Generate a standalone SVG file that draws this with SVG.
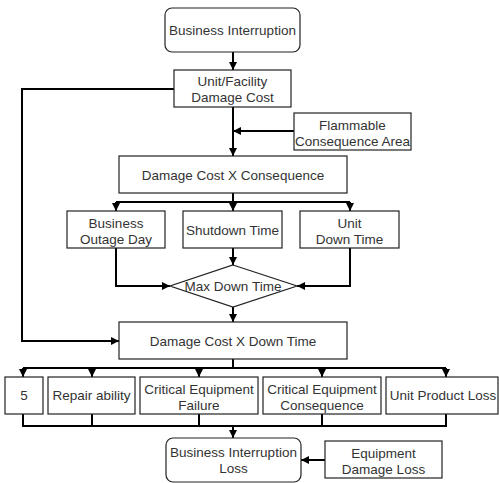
<svg xmlns="http://www.w3.org/2000/svg" width="499" height="483" viewBox="0 0 499 483">
<defs>
<marker id="ah" markerUnits="userSpaceOnUse" markerWidth="9" markerHeight="9" refX="8" refY="4.5" orient="auto">
<path d="M0,0.5 L8,4.5 L0,8.5 z" fill="#000"/>
</marker>
<style>
.box{fill:#fff;stroke:#222;stroke-width:1.2}
.t{font-family:"Liberation Sans",Arial,sans-serif;font-size:13.5px;fill:#333;text-anchor:middle}
.c{fill:none;stroke:#000;stroke-width:2}
.a{marker-end:url(#ah)}
</style>
</defs>
<rect width="499" height="483" fill="#fff"/>
<g id="connectors">
<path class="c a" d="M233,52 V70"/>
<path class="c a" d="M174,89 H22 V341 H119"/>
<path class="c a" d="M233,107 V156"/>
<path class="c a" d="M294,131 H233"/>
<path class="c" d="M233,193 V202"/>
<path class="c" d="M116,202 H350"/>
<path class="c a" d="M116,202 V211"/>
<path class="c a" d="M233,202 V211"/>
<path class="c a" d="M350,202 V211"/>
<path class="c a" d="M116,248 V286 H170"/>
<path class="c a" d="M233,248 V265"/>
<path class="c a" d="M350,248 V286 H297"/>
<path class="c a" d="M233,307 V322"/>
<path class="c" d="M233,359 V368"/>
<path class="c" d="M23,368 H446"/>
<path class="c a" d="M23,368 V377"/>
<path class="c a" d="M92,368 V377"/>
<path class="c a" d="M199,368 V377"/>
<path class="c a" d="M322,368 V377"/>
<path class="c a" d="M446,368 V377"/>
<path class="c" d="M23,414 V426 H446 V414"/>
<path class="c" d="M92,414 V426"/>
<path class="c" d="M199,414 V426"/>
<path class="c" d="M322,414 V426"/>
<path class="c a" d="M233,426 V438"/>
<path class="c a" d="M325,460 H301"/>
</g>
<g id="business-interruption">
<rect class="box" x="165" y="8" width="135" height="44" rx="7"/>
<text class="t" x="232.5" y="35">Business Interruption</text>
</g>
<g id="unit-facility-damage-cost">
<rect class="box" x="174" y="70" width="117" height="37"/>
<text class="t" x="232.5" y="86">Unit/Facility</text>
<text class="t" x="232.5" y="102">Damage Cost</text>
</g>
<g id="flammable-consequence-area">
<rect class="box" x="294" y="113" width="117" height="37"/>
<text class="t" x="352.5" y="130">Flammable</text>
<text class="t" x="352.5" y="146">Consequence Area</text>
</g>
<g id="damage-cost-x-consequence">
<rect class="box" x="119" y="156" width="228" height="37"/>
<text class="t" x="233" y="180">Damage Cost X Consequence</text>
</g>
<g id="business-outage-day">
<rect class="box" x="67" y="211" width="98" height="37"/>
<text class="t" x="116" y="228">Business</text>
<text class="t" x="116" y="244">Outage Day</text>
</g>
<g id="shutdown-time">
<rect class="box" x="183" y="211" width="99" height="37"/>
<text class="t" x="232.5" y="235">Shutdown Time</text>
</g>
<g id="unit-down-time">
<rect class="box" x="300" y="211" width="99" height="37"/>
<text class="t" x="349.5" y="228">Unit</text>
<text class="t" x="349.5" y="244">Down Time</text>
</g>
<g id="max-down-time">
<polygon class="box" points="233,265 297,286 233,307 170,286"/>
<text class="t" x="233" y="291">Max Down Time</text>
</g>
<g id="damage-cost-x-down-time">
<rect class="box" x="119" y="322" width="228" height="37"/>
<text class="t" x="233" y="346">Damage Cost X Down Time</text>
</g>
<g id="five">
<rect class="box" x="5" y="377" width="38" height="37"/>
<text class="t" x="24" y="400">5</text>
</g>
<g id="repair-ability">
<rect class="box" x="48" y="377" width="87" height="37"/>
<text class="t" x="91.5" y="400">Repair ability</text>
</g>
<g id="critical-equipment-failure">
<rect class="box" x="140" y="377" width="118" height="37"/>
<text class="t" x="199" y="394">Critical Equipment</text>
<text class="t" x="199" y="410">Failure</text>
</g>
<g id="critical-equipment-consequence">
<rect class="box" x="263" y="377" width="118" height="37"/>
<text class="t" x="322" y="394">Critical Equipment</text>
<text class="t" x="322" y="410">Consequence</text>
</g>
<g id="unit-product-loss">
<rect class="box" x="386" y="377" width="112" height="37"/>
<text class="t" x="443" y="400">Unit Product Loss</text>
</g>
<g id="business-interruption-loss">
<rect class="box" x="166" y="438" width="135" height="44" rx="7"/>
<text class="t" x="233.5" y="457">Business Interruption</text>
<text class="t" x="233.5" y="473">Loss</text>
</g>
<g id="equipment-damage-loss">
<rect class="box" x="325" y="441" width="117" height="37"/>
<text class="t" x="383.5" y="458">Equipment</text>
<text class="t" x="383.5" y="474">Damage Loss</text>
</g>
</svg>
